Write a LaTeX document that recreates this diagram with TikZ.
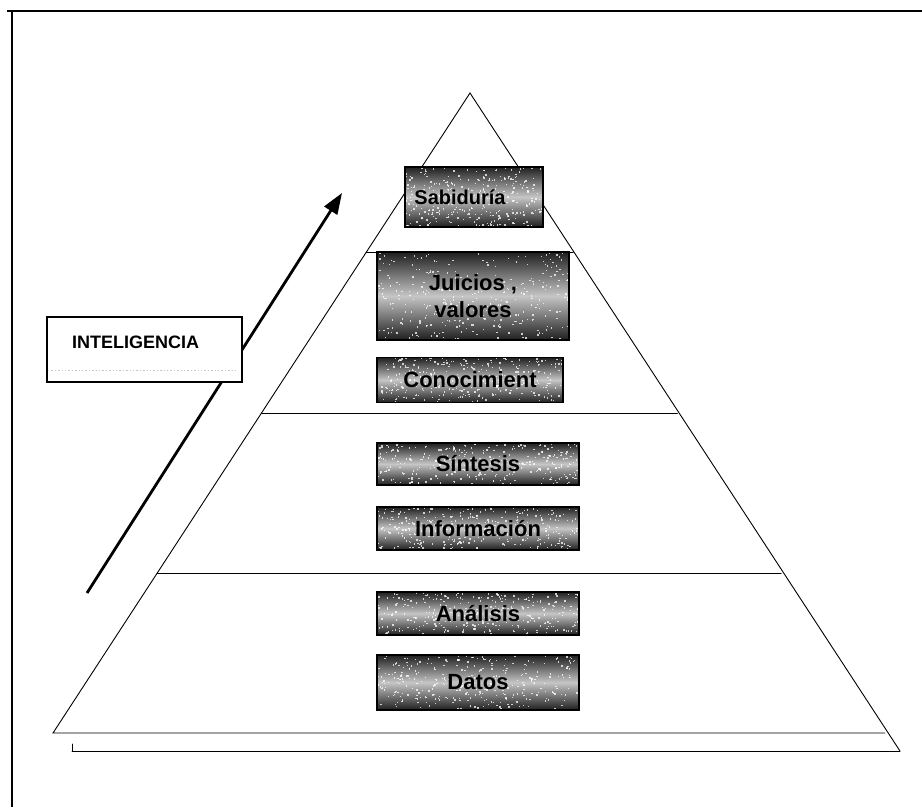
\documentclass[tikz,border=0pt]{standalone}
\usepackage{fontspec}
\setmainfont{Liberation Sans}
\usetikzlibrary{arrows.meta,calc}

% white grain scattered over a stage box
\newcommand\speckle{%
  \pgfpointdiff{\pgfpointanchor{path picture bounding box}{south west}}%
               {\pgfpointanchor{path picture bounding box}{north east}}%
  \pgfgetlastxy{\bw}{\bh}%
  \foreach \i in {1,...,320}{%
    \pgfmathsetmacro\rx{rnd*\bw}%
    \pgfmathsetmacro\ry{rnd*\bh}%
    \fill[white,opacity=.75] ([shift={(\rx pt,\ry pt)}]path picture bounding box.south west)
      rectangle ++(1.4pt,1.4pt);}%
}

\begin{document}
\begin{tikzpicture}[x=1pt,y=-1pt,
  stage/.style={draw=black, line width=1.3pt,
    top color=black!88, bottom color=black!88, middle color=gray!45,
    font=\bfseries\fontsize{22}{27}\selectfont, text=black,
    inner sep=0pt, path picture={\speckle}},
  edge/.style={line width=0.9pt, line cap=round},
  frame/.style={line width=1.3pt},
]
\pgfmathsetseed{11}
\useasboundingbox (0,0) rectangle (922,807);

% page frame (top and left rules)
\draw[frame] (7,11) -- (922,11);
\draw[frame] (12,11) -- (12,807);

% pyramid outline
\coordinate (apex) at (470,93);
\coordinate (bl) at (53,733);
\coordinate (br) at (885,733);
\coordinate (brx) at (900,751);
\coordinate (lowl) at (72,751);
\draw[edge] (apex) -- (bl) -- (br);
\draw[edge] (apex) -- (brx);
\draw[edge] (lowl) -- (brx);
\draw[edge] (lowl) -- ++(0,-7);

% level separators
\draw[edge] ($(apex)!0.2484!(bl)$) -- ($(apex)!0.2484!(br)$);
\draw[edge] ($(apex)!0.5!(bl)$) -- ($(apex)!0.5!(br)$);
\draw[edge] ($(apex)!0.75!(bl)$) -- ($(apex)!0.75!(br)$);

% stages of the pyramid
\node[stage, minimum width=138, minimum height=60, font=\bfseries\fontsize{20}{24}\selectfont]
  (sab) at (474,197) {Sabiduría\hspace*{28pt}};
\node[stage, minimum width=192, minimum height=88, align=center]
  (jui) at (473,296) {Juicios ,\\valores};
\node[stage, minimum width=186, minimum height=45] (con) at (470,380) {Conocimient};
\node[stage, minimum width=202, minimum height=42] (sin) at (478,464) {Síntesis};
\node[stage, minimum width=202, minimum height=43] (inf) at (478,528.5) {Información};
\node[stage, minimum width=202, minimum height=43] (ana) at (478,613.5) {Análisis};
\node[stage, minimum width=202, minimum height=55] (dat) at (478,682.5) {Datos};

% rising arrow
\coordinate (tail) at (87,593);
\coordinate (tip) at (342,193);
\draw[line width=2.8pt, -{Triangle[length=21pt,width=15pt]}] (tail) -- (tip);

% label box
\node[draw=black, fill=white, line width=1.3pt, minimum width=195, minimum height=65, inner sep=0pt]
  (intel) at (144.5,349.5) {};
\draw[gray!45, dotted, line width=1.4pt] ($(intel.south west)+(5,-12)$) -- ($(intel.south east)+(-5,-12)$);
\node[anchor=base west, font=\bfseries\fontsize{18}{20}\selectfont, inner sep=0pt]
  (inteltext) at (72,348) {INTELIGENCIA};
\end{tikzpicture}
\end{document}
